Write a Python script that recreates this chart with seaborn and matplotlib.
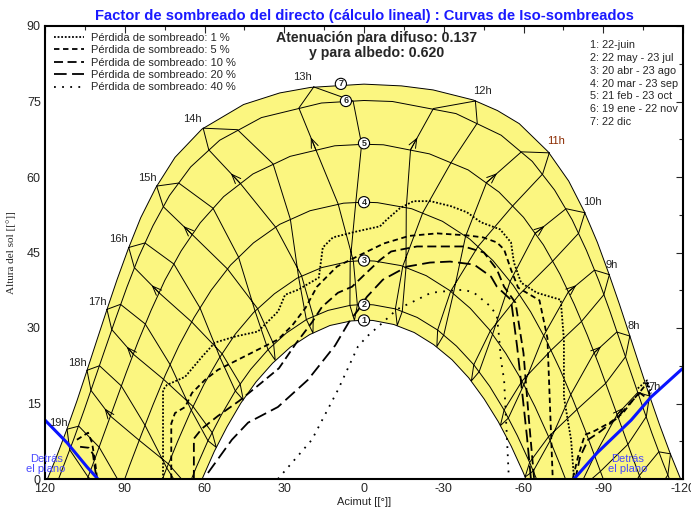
import numpy as np
import pandas as pd
import seaborn as sns
import matplotlib.pyplot as plt
from matplotlib.lines import Line2D
from matplotlib.ticker import MultipleLocator

sns.set_style("white")
plt.rcParams['font.family'] = ['Liberation Sans', 'DejaVu Sans']
plt.rcParams['axes.unicode_minus'] = False

# sun paths (acimut, altura), 1 = 22 jun ... 7 = 22 dic
d7_az = [-119.1, -115.1, -111.1, -107.3, -103.6, -99.9, -96.1, -92.1, -87.8, -82.9, -77.0, -69.3, -58.4, -50.2, -41.1, -26.0, -14.1, 0,
         20.1, 31.7, 45.3, 61.0, 71.1, 78.3, 84.0, 88.7, 92.9, 96.8, 100.6, 104.3, 108.0, 111.9, 115.9, 119.1]
d7_alt = [0, 5.2, 10.9, 16.7, 22.6, 28.6, 34.7, 40.8, 47.0, 53.1, 59.2, 65.0, 70.6, 73.2, 75.3, 77.3, 78.1, 78.45,
          77.8, 76.7, 74.4, 69.5, 63.9, 57.9, 51.9, 45.7, 39.6, 33.5, 27.4, 21.4, 15.5, 9.7, 4.1, 0]
d6_az = [-114.9, -112.4, -108.3, -104.4, -100.5, -96.6, -92.6, -88.4, -83.7, -78.3, -71.7, -63.3, -51.6, -34.6, -10.7, 0,
         16.0, 38.6, 54.3, 65.2, 73.2, 79.4, 84.7, 89.2, 93.4, 97.4, 101.3, 105.2, 109.2, 113.3, 114.9]
d6_alt = [0, 3.3, 9.1, 15.0, 21.0, 27.0, 33.2, 39.3, 45.4, 51.5, 57.4, 63.1, 68.3, 72.6, 75.0, 75.2,
          74.7, 71.8, 67.3, 62.0, 56.3, 50.3, 44.2, 38.1, 31.9, 25.8, 19.8, 13.8, 7.9, 2.2, 0]
d5_az = [-104.1, -101.1, -97.0, -92.8, -88.5, -84.0, -79.1, -73.7, -67.5, -60.0, -50.8, -39.2, -24.6, -7.3, 0,
         11.0, 27.8, 41.8, 52.8, 61.6, 68.8, 74.9, 80.1, 84.9, 89.4, 93.6, 97.8, 102.0, 104.1]
d5_alt = [0, 4.2, 10.2, 16.3, 22.5, 28.6, 34.7, 40.7, 46.5, 52.0, 57.0, 61.4, 64.6, 66.4, 66.5,
          66.2, 64.1, 60.6, 56.1, 50.9, 45.3, 39.5, 33.5, 27.4, 21.2, 15.1, 9.0, 2.9, 0]
d4_az = [-90, -87.4, -83.1, -78.5, -73.7, -68.5, -62.7, -56.1, -48.5, -39.7, -29.5, -17.9, -5.1, 0,
         7.7, 20.3, 31.7, 41.6, 50.2, 57.5, 63.9, 69.6, 74.7, 79.4, 83.9, 88.3, 90]
d4_alt = [0, 3.7, 9.8, 15.9, 21.8, 27.6, 33.2, 38.5, 43.4, 47.7, 51.2, 53.7, 54.9, 55.0,
          54.8, 53.3, 50.6, 46.9, 42.5, 37.5, 32.1, 26.5, 20.7, 14.7, 8.6, 2.5, 0]
d3_az = [-75.8, -73.6, -69.1, -64.3, -59.1, -53.4, -47.1, -40.0, -32.1, -23.4, -13.9, -3.9, 0,
         5.9, 15.9, 25.2, 33.7, 41.5, 48.4, 54.6, 60.2, 65.3, 70.0, 74.5, 75.8]
d3_alt = [0, 3.0, 8.8, 14.4, 19.8, 24.9, 29.7, 33.9, 37.5, 40.4, 42.4, 43.3, 43.4,
          43.2, 42.0, 39.9, 36.8, 33.1, 28.8, 23.9, 18.8, 13.3, 7.6, 1.8, 0]
d2_az = [-64.9, -62.3, -57.7, -52.7, -47.3, -41.3, -34.8, -27.7, -20.0, -11.8, -3.5, 0,
         5.2, 13.5, 21.6, 29.2, 36.1, 42.6, 48.4, 53.7, 58.7, 63.2, 64.9]
d2_alt = [0, 3.3, 8.6, 13.7, 18.4, 22.7, 26.4, 29.6, 32.1, 33.8, 34.6, 34.7,
          34.5, 33.5, 31.7, 29.0, 25.7, 21.8, 17.5, 12.7, 7.6, 2.2, 0]
d1_az = [-60.9, -59.9, -55.4, -50.5, -45.2, -39.4, -33.1, -26.2, -18.9, -11.2, -3.3, 0,
         4.9, 12.8, 20.4, 27.7, 34.4, 40.6, 46.3, 51.5, 56.3, 60.9]
d1_alt = [0, 1.3, 6.5, 11.4, 15.9, 20.1, 23.7, 26.7, 29.1, 30.7, 31.5, 31.55,
          31.4, 30.5, 28.7, 26.2, 23.0, 19.3, 15.1, 10.4, 5.5, 0]

# hour loops: dic -> ene -> feb -> mar -> abr -> may -> jun -> jul -> ago -> sep -> oct -> nov -> dic
h6 = [(-107.0, -5.1), (-114.3, 0.8), (-115.3, 5.0), (-110.9, 5.4), (-103.6, 0.7), (-95.0, -7.6)]
h7 = [(-78.2, -3.4), (-88.9, 1.5), (-99.3, 6.9), (-106.2, 12.4), (-107.4, 16.5), (-103.0, 17.2), (-95.2, 12.8), (-86.7, 4.6), (-78.7, -4.2)]
h8 = [(-100.0, 28.4), (-98.4, 24.3), (-90.9, 19.0), (-80.1, 13.8), (-69.4, 8.4), (-62.3, 3.3), (-60.6, 0.4),
      (-63.7, 1.6), (-70.0, 7.6), (-77.8, 16.8), (-86.6, 25.1), (-95.1, 29.2), (-100.0, 28.4)]
h9 = [(-92.3, 40.6), (-90.2, 36.6), (-81.8, 31.3), (-70.4, 25.6), (-59.5, 19.5), (-52.7, 13.7), (-51.3, 10.6),
      (-54.3, 12.1), (-60.2, 18.8), (-67.6, 28.5), (-76.9, 37.2), (-86.7, 41.5), (-92.3, 40.6)]
h10 = [(-83.1, 52.9), (-80.7, 48.8), (-71.0, 43.3), (-58.5, 36.7), (-47.5, 29.4), (-41.3, 22.7), (-40.4, 19.5),
       (-43.3, 21.3), (-48.4, 28.8), (-55.0, 39.3), (-64.4, 48.8), (-76.0, 53.7), (-83.1, 52.9)]
h11 = [(-69.7, 64.8), (-67.2, 60.6), (-56.0, 54.3), (-42.9, 46.2), (-32.6, 37.3), (-27.7, 29.6), (-27.4, 26.3),
       (-30.0, 28.6), (-33.6, 36.8), (-38.2, 48.2), (-46.1, 58.9), (-59.2, 65.0), (-69.7, 64.8)]
h12 = [(-41.9, 75.1), (-42.6, 70.7), (-32.8, 62.9), (-22.1, 52.9), (-14.6, 42.3), (-11.8, 33.8), (-12.5, 30.5),
       (-14.4, 33.3), (-15.8, 42.0), (-15.9, 53.9), (-17.5, 65.4), (-26.1, 73.6), (-41.9, 75.1)]
h13 = [(18.9, 77.9), (4.1, 75.1), (0.9, 66.5), (3.1, 54.9), (5.2, 43.2), (5.3, 34.5), (3.6, 31.5),
       (2.5, 34.6), (4.0, 43.3), (9.7, 54.6), (18.1, 65.4), (24.5, 73.7), (18.9, 77.9)]
h14 = [(60.5, 69.7), (47.6, 69.4), (34.2, 62.6), (27.7, 51.6), (24.6, 40.1), (21.7, 31.7), (19.2, 29.0),
       (19.1, 32.3), (23.5, 40.4), (33.2, 50.0), (46.5, 58.7), (58.4, 65.4), (60.5, 69.7)]
h15 = [(78.0, 58.2), (69.7, 58.8), (56.8, 53.8), (47.2, 44.1), (41.0, 33.4), (36.1, 25.7), (33.4, 23.6),
       (34.0, 26.8), (40.1, 33.9), (51.3, 41.7), (64.7, 48.6), (75.5, 54.1), (78.0, 58.2)]
h16 = [(88.5, 46.0), (82.4, 46.9), (71.5, 42.7), (61.7, 34.0), (54.2, 24.2), (48.4, 17.5), (45.4, 15.7),
       (46.6, 18.9), (53.4, 24.9), (64.8, 31.2), (77.1, 37.0), (86.4, 42.0), (88.5, 46.0)]
h17 = [(96.7, 33.7), (91.6, 34.7), (82.3, 30.8), (72.9, 22.7), (65.0, 13.7), (58.7, 7.6), (55.6, 6.3),
       (57.1, 9.2), (64.3, 14.4), (75.4, 19.8), (86.8, 24.8), (94.9, 29.7), (96.7, 33.7)]
h18 = [(104.2, 21.6), (99.5, 22.5), (91.3, 18.5), (82.4, 10.7), (74.2, 2.2), (67.5, -3.4), (63.5, -4.3),
       (66.0, -1.6), (73.6, 3.0), (84.6, 7.7), (95.4, 12.5), (102.7, 17.6), (104.2, 21.6)]
h19 = [(91.1, -1.5), (99.6, 6.3), (107.3, 10.5), (111.7, 9.9), (110.7, 5.8), (103.8, 0.4), (93.2, -4.6)]

# index of the (oct, nov) points in each loop, where the arrow sits
loops = [(h6, None), (h7, (6, 5)), (h8, (10, 11)), (h9, (10, 11)), (h10, (10, 11)), (h11, (10, 11)),
         (h12, (10, 11)), (h13, (10, 11)), (h14, (10, 11)), (h15, (10, 11)), (h16, (10, 11)),
         (h17, (10, 11)), (h18, (10, 11)), (h19, None)]

hour_labels = ["7h", "8h", "9h", "10h", "11h", "12h", "13h", "14h", "15h", "16h", "17h", "18h", "19h"]
hour_lab_az = [-109.2, -101.6, -93.3, -85.8, -72.2, -44.4, 23.3, 64.7, 81.6, 92.5, 100.1, 107.6, 115.1]
hour_lab_alt = [18.3, 30.3, 42.6, 55.0, 67.1, 77.1, 79.8, 71.5, 59.9, 47.6, 35.2, 23.1, 11.2]

# iso-shading curves
loss_labels = ["Pérdida de sombreado: 1 %", "Pérdida de sombreado: 5 %", "Pérdida de sombreado: 10 %",
               "Pérdida de sombreado: 20 %", "Pérdida de sombreado: 40 %"]
loss_styles = [(0, (1, 1)), (0, (3, 2)), (0, (5, 2.5)), (0, (7, 3)), (0, (1, 3.5))]
p1 = [(75.6, 0), (75.6, 17.7), (74.1, 18.7), (67.3, 20.3), (60.9, 24.3), (56.1, 27.1), (48.5, 28.3), (39.9, 29.3),
      (32.3, 33.3), (29.7, 36.6), (24.8, 37.6), (17.0, 40.0), (15.5, 46.0), (11.7, 48.0), (2.6, 49.2), (-6.0, 50.2),
      (-8.7, 51.6), (-13.5, 53.8), (-18.6, 55.2), (-25.0, 55.2), (-32.7, 54.2), (-38.7, 53.0), (-44.0, 51.0),
      (-51.2, 49.6), (-55.3, 47.0), (-56.4, 43.0), (-59.1, 39.0), (-65.0, 37.0), (-74.0, 35.6), (-75.2, 27.7),
      (-75.2, 16.3), (-77.9, 7.8), (-79.0, 0)]
p5 = [(72.5, 0), (72.5, 11), (71.1, 13.1), (67.3, 14.3), (64.7, 17.1), (59.8, 19.7), (54.9, 21.7), (47.4, 23.7),
      (39.9, 25.7), (32.4, 27.7), (27.0, 30.5), (22.0, 34.0), (17.7, 38.2), (10.2, 42.2), (1.5, 44.5),
      (-7.5, 46.8), (-17.0, 48.3), (-27.5, 48.8), (-38.7, 48.4), (-44.8, 48.0), (-50.0, 47.0), (-52.7, 45.6),
      (-55.3, 41.6), (-58, 38), (-66, 35.5), (-69, 28), (-70, 14), (-71, 0)]
p10 = [(64, 0), (64, 8), (61, 10), (55, 12.5), (47, 15.5), (40, 18.5), (32, 22), (25.5, 27), (19.6, 31.1),
       (15.8, 34.2), (9.8, 37), (4.5, 38.2), (0, 40.5), (-6, 43.5), (-10.2, 45.2), (-19.9, 46.2), (-37.6, 46.2),
       (-45.1, 45), (-50, 41.6), (-52.7, 38.2), (-57, 35), (-60, 25), (-62, 12), (-64, 0)]
p20 = [(58.7, 1.2), (49.7, 7.8), (43.6, 11.2), (32.4, 14.3), (21.1, 19.7), (13.9, 24.5), (10.9, 26.5), (5.3, 31.5),
       (2.3, 33.5), (-1.1, 36.2), (-7.1, 39.6), (-16.2, 42.2), (-24.8, 43.0), (-32.4, 43.2), (-41.4, 42.6),
       (-47.8, 40.2), (-50.0, 38.2), (-55.3, 35.6), (-57.6, 26.3), (-59.4, 17.7), (-61.3, 8.4), (-62.8, 0)]
p40 = [(32.4, 0), (19.6, 7.8), (9.8, 17.7), (2.3, 26.3), (-1.1, 28.3), (-7.1, 31.1), (-12.4, 33.7), (-19.9, 35.6),
       (-25.2, 37.0), (-32.4, 37.4), (-37.6, 37.6), (-41.4, 37.0), (-47.8, 34.2), (-50.0, 32.3), (-50.8, 28.3),
       (-51.5, 23.7), (-52.7, 19.7), (-53.8, 7.8), (-54.5, 0)]
p5_left = [(108, 7.8), (103.8, 9.2), (102.3, 7.2), (101.1, 3.2), (100.4, 0)]
p10_left = [(106.8, 6.4), (103.5, 6.2), (102.0, 5.0), (100.6, 0)]
p5_right = [(-78.6, 0.2), (-80.5, 4.4), (-83.1, 8.8), (-86.2, 9.4), (-92.5, 11.2), (-97.4, 13.1), (-101.2, 15.7),
            (-103.8, 17.3), (-106.5, 19.1), (-107.6, 16.3)]
p10_right = [(-79.5, 0), (-81.3, 4.4), (-84.3, 7.8), (-88.8, 9.4), (-95.2, 12.1), (-100.1, 15.1), (-103.8, 17.1),
             (-106.0, 16.2)]
p1_right = [(-103.0, 18.0), (-106.5, 19.6), (-108.0, 17.0)]
loss_curves = [[p1, p1_right], [p5, p5_left, p5_right], [p10, p10_left, p10_right], [p20], [p40]]

# "behind the plane" limit
plane_l_az = [121, 120, 111.7, 104.2, 100.1]
plane_l_alt = [12.2, 11.7, 7.2, 2.4, 0]
plane_r_az = [-79.0, -87.7, -100.5, -108.0, -119.3, -121]
plane_r_alt = [0, 5.2, 11.7, 16.3, 21.7, 22.4]

date_labels = ["1: 22-juin", "2: 22 may - 23 jul", "3: 20 abr - 23 ago", "4: 20 mar - 23 sep",
               "5: 21 feb - 23 oct", "6: 19 ene - 22 nov", "7: 22 dic"]
circle_az = [0, 0, 0, 0, 0, 6.8, 8.7]
circle_alt = [31.5, 34.6, 43.4, 55.0, 66.7, 75.1, 78.5]

fig = plt.figure(figsize=(6.91, 5.09), dpi=100)
ax = fig.add_axes([45 / 691, 30 / 509, 638 / 691, 453 / 509])

yellow = '#fbf680'
ax.fill(np.r_[d7_az, d1_az[::-1]], np.r_[d7_alt, d1_alt[::-1]], color=yellow, lw=0, zorder=0)

for az, alt in [(d1_az, d1_alt), (d2_az, d2_alt), (d3_az, d3_alt), (d4_az, d4_alt),
                (d5_az, d5_alt), (d6_az, d6_alt), (d7_az, d7_alt)]:
    sns.lineplot(x=az, y=alt, sort=False, estimator=None, color='black', lw=0.7, ax=ax)

for pts, arr in loops:
    df = pd.DataFrame(pts, columns=['az', 'alt'])
    sns.lineplot(data=df, x='az', y='alt', sort=False, estimator=None, color='black', lw=0.7, ax=ax)
    if arr is not None:
        a, b = pts[arr[0]], pts[arr[1]]
        tip = (a[0] + 0.3 * (b[0] - a[0]), a[1] + 0.3 * (b[1] - a[1]))
        ax.annotate('', xy=tip, xytext=a,
                    arrowprops=dict(arrowstyle='->,head_length=0.55,head_width=0.22', color='black',
                                    lw=0.7, mutation_scale=12, shrinkA=0, shrinkB=0))

for curves, ls in zip(loss_curves, loss_styles):
    for pts in curves:
        df = pd.DataFrame(pts, columns=['az', 'alt'])
        sns.lineplot(data=df, x='az', y='alt', sort=False, estimator=None, color='black', lw=1.3,
                     linestyle=ls, ax=ax)

ax.plot(plane_l_az, plane_l_alt, color='#0a14ff', lw=2.2, clip_on=True)
ax.plot(plane_r_az, plane_r_alt, color='#0a14ff', lw=2.2)
ax.text(119.6, 3.0, "Detrás\nel plano", color='#4a4aff', fontsize=8, ha='center', va='center', linespacing=0.95)
ax.text(-99.3, 3.0, "Detrás\nel plano", color='#4a4aff', fontsize=8, ha='center', va='center', linespacing=0.95)

for lab, x, y in zip(hour_labels, hour_lab_az, hour_lab_alt):
    ax.text(x, y, lab, fontsize=8, ha='center', va='center',
            color='#8b2a00' if lab == "11h" else '#222222')

for i, (x, y) in enumerate(zip(circle_az, circle_alt)):
    ax.text(x, y, str(i + 1), fontsize=6.5, fontweight='bold', ha='center', va='center',
            bbox=dict(boxstyle='circle,pad=0.12', fc='white', ec='black', lw=0.8))

handles = [Line2D([], [], color='black', lw=1.3, linestyle=ls) for ls in loss_styles]
ax.legend(handles, loss_labels, loc='upper left', bbox_to_anchor=(0.0, 1.005), frameon=False, fontsize=8,
          handlelength=2.7, labelspacing=0.22, handletextpad=0.6, borderaxespad=0.4)

for i, lab in enumerate(date_labels):
    ax.text(0.854, 0.957 - i * 0.028, lab, transform=ax.transAxes, fontsize=7.8, va='center')

ax.text(0.52, 0.973, "Atenuación para difuso: 0.137", transform=ax.transAxes, fontsize=10.2,
        fontweight='bold', ha='center', va='center')
ax.text(0.52, 0.941, "y para albedo: 0.620", transform=ax.transAxes, fontsize=10.2,
        fontweight='bold', ha='center', va='center')

fig.text(364 / 691, 1 - 16 / 509, "Factor de sombreado del directo (cálculo lineal) : Curvas de Iso-sombreados",
         color='#1a1aff', fontsize=10.6, fontweight='bold', ha='center', va='center')

ax.set_xlim(120, -120)
ax.set_ylim(0, 90)
ax.xaxis.set_major_locator(MultipleLocator(30))
ax.xaxis.set_minor_locator(MultipleLocator(15))
ax.yaxis.set_major_locator(MultipleLocator(15))
ax.yaxis.set_minor_locator(MultipleLocator(7.5))
ax.tick_params(which='both', direction='in', top=True, right=True, labelsize=9, width=0.8, pad=3)
ax.tick_params(which='major', length=5)
ax.tick_params(which='minor', length=3)
for s in ax.spines.values():
    s.set_linewidth(1.5)
    s.set_color('black')
ax.set_xlabel("Acimut [[°]]", fontsize=8, labelpad=1)
ax.set_ylabel("Altura del sol [[°]]", fontsize=8, family=['Liberation Serif', 'DejaVu Serif'], labelpad=8)

fig.savefig("out.png", dpi=100)
